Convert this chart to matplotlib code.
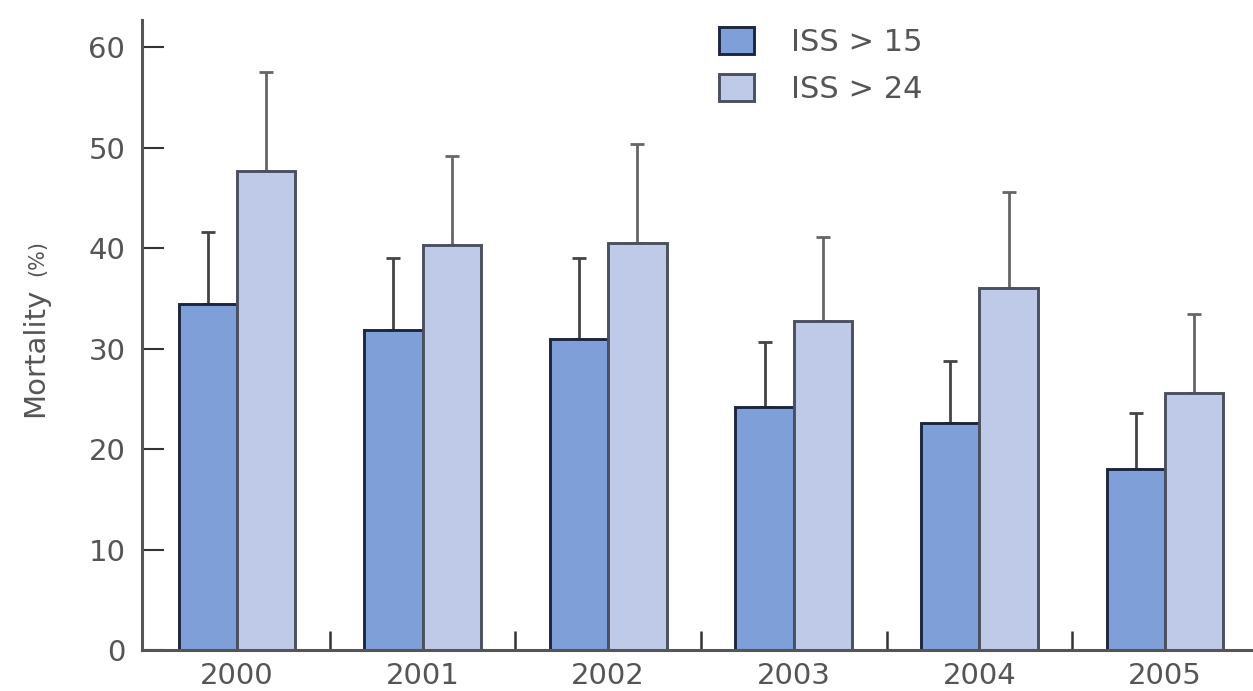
import matplotlib
matplotlib.use("Agg")
import matplotlib.pyplot as plt
import numpy as np
from matplotlib.ticker import FixedLocator

years = ["2000", "2001", "2002", "2003", "2004", "2005"]
iss15 = [34.4, 31.8, 31.0, 24.2, 22.6, 18.0]
iss15_err = [7.2, 7.2, 8.0, 6.5, 6.2, 5.6]
iss24 = [47.7, 40.3, 40.5, 32.7, 36.0, 25.6]
iss24_err = [9.8, 8.9, 9.9, 8.4, 9.6, 7.8]
yticks = [0, 10, 20, 30, 40, 50, 60]

fig = plt.figure(figsize=(12.53, 6.91), dpi=100)
ax = fig.add_axes([142/1253, 1-650/691, 1-142/1253, (650-20)/691])

x = np.arange(len(years))
w = 0.315
c15 = "#7f9fd8"
c24 = "#bfcae8"
ax.bar(x - w, iss15, width=w, align="edge", color=c15, edgecolor="#1c2640",
       linewidth=2.1, label="ISS > 15", zorder=2)
ax.bar(x, iss24, width=w, align="edge", color=c24, edgecolor="#4a5060",
       linewidth=2.1, label="ISS > 24", zorder=2)
ax.errorbar(x - w/2, iss15, yerr=[np.zeros(len(x)), iss15_err], fmt="none",
            ecolor="#444444", elinewidth=2.0, capsize=5, capthick=2.0, zorder=1)
ax.errorbar(x + w/2, iss24, yerr=[np.zeros(len(x)), iss24_err], fmt="none",
            ecolor="#666666", elinewidth=2.0, capsize=5, capthick=2.0, zorder=1)

ax.set_xlim(-0.512, 5.474)
ax.set_ylim(0, 62.7)

for s in ["top", "right"]:
    ax.spines[s].set_visible(False)
for s in ["left", "bottom"]:
    ax.spines[s].set_color("#555555")
    ax.spines[s].set_linewidth(2.2)

ax.set_yticks(yticks)
ax.set_yticklabels([str(v) for v in yticks])
ax.tick_params(axis="y", direction="in", length=16, width=1.5, color="#333333",
               pad=12, labelsize=21, labelcolor="#555555")
ax.set_xticks(x)
ax.set_xticklabels(years)
ax.tick_params(axis="x", which="major", length=0, pad=9, labelsize=21,
               labelcolor="#555555")
ax.xaxis.set_minor_locator(FixedLocator(x[:-1] + 0.5))
ax.tick_params(axis="x", which="minor", direction="in", length=14, width=1.8,
               color="#333333")

fig.text(43/1253, 1-352/691, "Mortality", rotation=90, ha="center",
         va="baseline", rotation_mode="anchor", fontsize=21, color="#555555")
fig.text(43/1253, 1-258/691, "(%)", rotation=90, ha="center",
         va="baseline", rotation_mode="anchor", fontsize=15, color="#555555")

leg = ax.legend(loc="upper left", bbox_to_anchor=(719/1253, 1-27/691),
                bbox_transform=fig.transFigure, frameon=False, fontsize=22,
                handlelength=1.15, handleheight=1.0, handletextpad=1.2,
                labelspacing=0.55, labelcolor="#555555", borderaxespad=0,
                borderpad=0)

fig.savefig("out.png", dpi=100, facecolor="white")
